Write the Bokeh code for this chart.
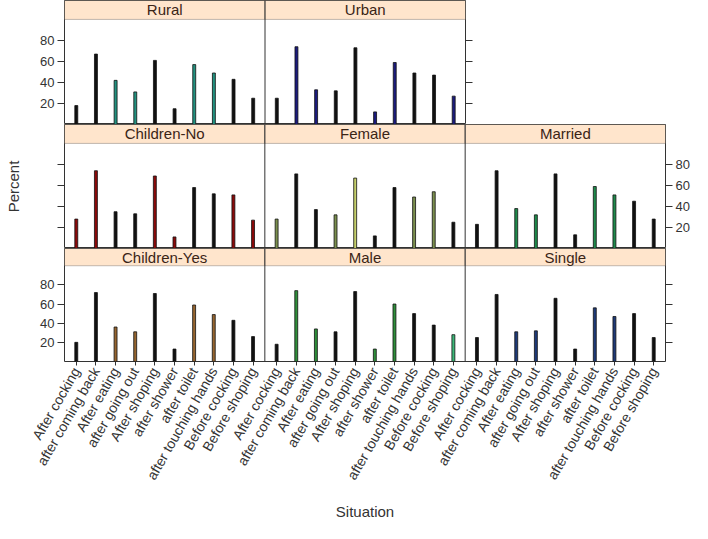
import math
from bokeh.plotting import figure
from bokeh.layouts import column
from bokeh.models import (Range1d, FixedTicker, LinearAxis, ColumnDataSource,
                          BoxAnnotation, Label, Span)
from bokeh.embed import file_html
from bokeh.resources import INLINE

situations = ["After cocking", "after coming back", "After eating", "after going out",
              "After shoping", "after shower", "after toilet", "after touching hands",
              "Before cocking", "Before shoping"]

rural        = [18, 67, 42, 31, 61, 15, 57, 49, 43, 25]
urban        = [25, 74, 33, 32, 73, 12, 59, 49, 47, 27]
children_no  = [28, 74, 35, 33, 69, 11, 58, 52, 51, 27]
female       = [28, 71, 37, 32, 67, 12, 58, 49, 54, 25]
married      = [23, 74, 38, 32, 71, 13, 59, 51, 45, 28]
children_yes = [20, 72, 36, 31, 71, 13, 59, 49, 43, 26]
male         = [18, 74, 34, 31, 73, 13, 60, 50, 38, 28]
single       = [25, 70, 31, 32, 66, 13, 56, 47, 50, 25]

y_ticks = [20, 40, 60, 80]

K = "#111111"
# bar colours per panel (style)
rural_col        = [K, K, "#22917f", "#22917f", K, K, "#22917f", "#22917f", K, K]
urban_col        = [K, "#1b1b7d", "#1b1b7d", K, K, "#1b1b7d", "#1b1b7d", K, K, "#1b1b7d"]
children_no_col  = ["#8b0a0a", "#8b0a0a", K, K, "#8b0a0a", "#8b0a0a", K, K, "#8b0a0a", "#8b0a0a"]
female_col       = ["#7b8f4e", K, K, "#7b8f4e", "#c5cf6b", K, K, "#7b8f4e", "#7b8f4e", K]
married_col      = [K, K, "#1e8a4b", "#1e8a4b", K, K, "#1e8a4b", "#1e8a4b", K, K]
children_yes_col = [K, K, "#96652f", "#96652f", K, K, "#96652f", "#96652f", K, K]
male_col         = [K, "#2f8f3a", "#2f8f3a", K, K, "#2f8f3a", "#2f8f3a", K, K, "#3cb878"]
single_col       = [K, K, "#1e3a78", "#1e3a78", K, K, "#1e3a78", "#1e3a78", K, K]

FONT = "Liberation Sans"
FRAME_H = 124
BOTTOM_B = 151
PANEL_SPAN = 102          # x units per panel (10 per situation + padding)
LINE = "#333333"


def yaxis(show_labels):
    ax = LinearAxis(ticker=FixedTicker(ticks=y_ticks))
    ax.axis_line_color = None
    ax.major_tick_out = 7
    ax.major_tick_in = 0
    ax.major_tick_line_color = LINE
    ax.minor_tick_line_color = None
    ax.major_label_text_font = FONT
    ax.major_label_text_color = LINE
    ax.major_label_standoff = 3
    ax.major_label_text_font_size = "13px"
    if not show_labels:
        ax.major_label_overrides = {t: "" for t in y_ticks}
    return ax


def make_row(panels, left_labels, right_labels, bottom=False, ylabel=None,
             xlabel=None, br=27):
    n = len(panels)
    frame_w = 401 if n == 2 else 601
    bl = 64
    h = FRAME_H + (BOTTOM_B if bottom else 0)
    p = figure(width=frame_w + bl + br, height=h, output_backend="svg",
               toolbar_location=None, tools="",
               x_range=Range1d(-1, n * PANEL_SPAN - 1),
               y_range=Range1d(0, 118),
               x_axis_location=None, y_axis_location=None,
               min_border_left=bl, min_border_right=br, min_border_top=0,
               min_border_bottom=BOTTOM_B if bottom else 0)
    p.xgrid.visible = False
    p.ygrid.visible = False
    p.outline_line_color = LINE
    p.outline_line_width = 1

    tick_pos, tick_lab = [], []
    for k, (name, vals, cols) in enumerate(panels):
        xs = [k * PANEL_SPAN + 10 * j + 5 for j in range(len(situations))]
        tick_pos += xs
        tick_lab += situations
        src = ColumnDataSource(dict(x=xs, top=vals, color=cols))
        p.vbar(x="x", top="top", bottom=0, width=1.5, source=src,
               fill_color="color", line_color="#111111", line_width=0.8)
        p.add_layout(BoxAnnotation(left=k * PANEL_SPAN - 1, right=k * PANEL_SPAN + 101,
                                   bottom=100, top=118, fill_color="#ffe5cc",
                                   fill_alpha=1, line_color=LINE, line_width=1,
                                   level="underlay"))
        p.add_layout(Label(x=k * PANEL_SPAN + 50, y=109, text=name, text_align="center",
                           text_baseline="middle", text_font=FONT,
                           text_font_size="15px", text_color="#3a2416"))
        if k < n - 1:
            p.add_layout(Span(location=k * PANEL_SPAN + 101, dimension="height",
                              line_color=LINE, line_width=1))

    ax = yaxis(left_labels)
    if ylabel:
        ax.axis_label = ylabel
        ax.axis_label_text_font = FONT
        ax.axis_label_text_font_size = "15px"
        ax.axis_label_text_font_style = "normal"
        ax.axis_label_text_color = LINE
        ax.axis_label_standoff = 36
    p.add_layout(ax, "left")
    p.add_layout(yaxis(right_labels), "right")

    if bottom:
        xa = LinearAxis(ticker=FixedTicker(ticks=tick_pos))
        xa.major_label_overrides = dict(zip(tick_pos, tick_lab))
        xa.axis_line_color = None
        xa.major_tick_out = 4
        xa.major_tick_in = 0
        xa.minor_tick_line_color = None
        xa.major_tick_line_color = LINE
        xa.major_label_orientation = math.pi / 3
        xa.major_label_text_font = FONT
        xa.major_label_text_font_size = "14px"
        xa.major_label_text_color = LINE
        xa.major_label_standoff = 3
        if xlabel:
            xa.axis_label = xlabel
            xa.axis_label_text_font = FONT
            xa.axis_label_text_font_size = "15px"
            xa.axis_label_text_font_style = "normal"
            xa.axis_label_text_color = LINE
            xa.axis_label_standoff = 14
        p.add_layout(xa, "below")
    return p


top = make_row([("Rural", rural, rural_col), ("Urban", urban, urban_col)],
               True, False, br=27)
mid = make_row([("Children-No", children_no, children_no_col),
                ("Female", female, female_col),
                ("Married", married, married_col)],
               False, True, ylabel="Percent")
bot = make_row([("Children-Yes", children_yes, children_yes_col),
                ("Male", male, male_col),
                ("Single", single, single_col)],
               True, False, bottom=True, xlabel="Situation")

layout = column(top, mid, bot, spacing=0)

open("out.html", "w").write(file_html(layout, INLINE))
